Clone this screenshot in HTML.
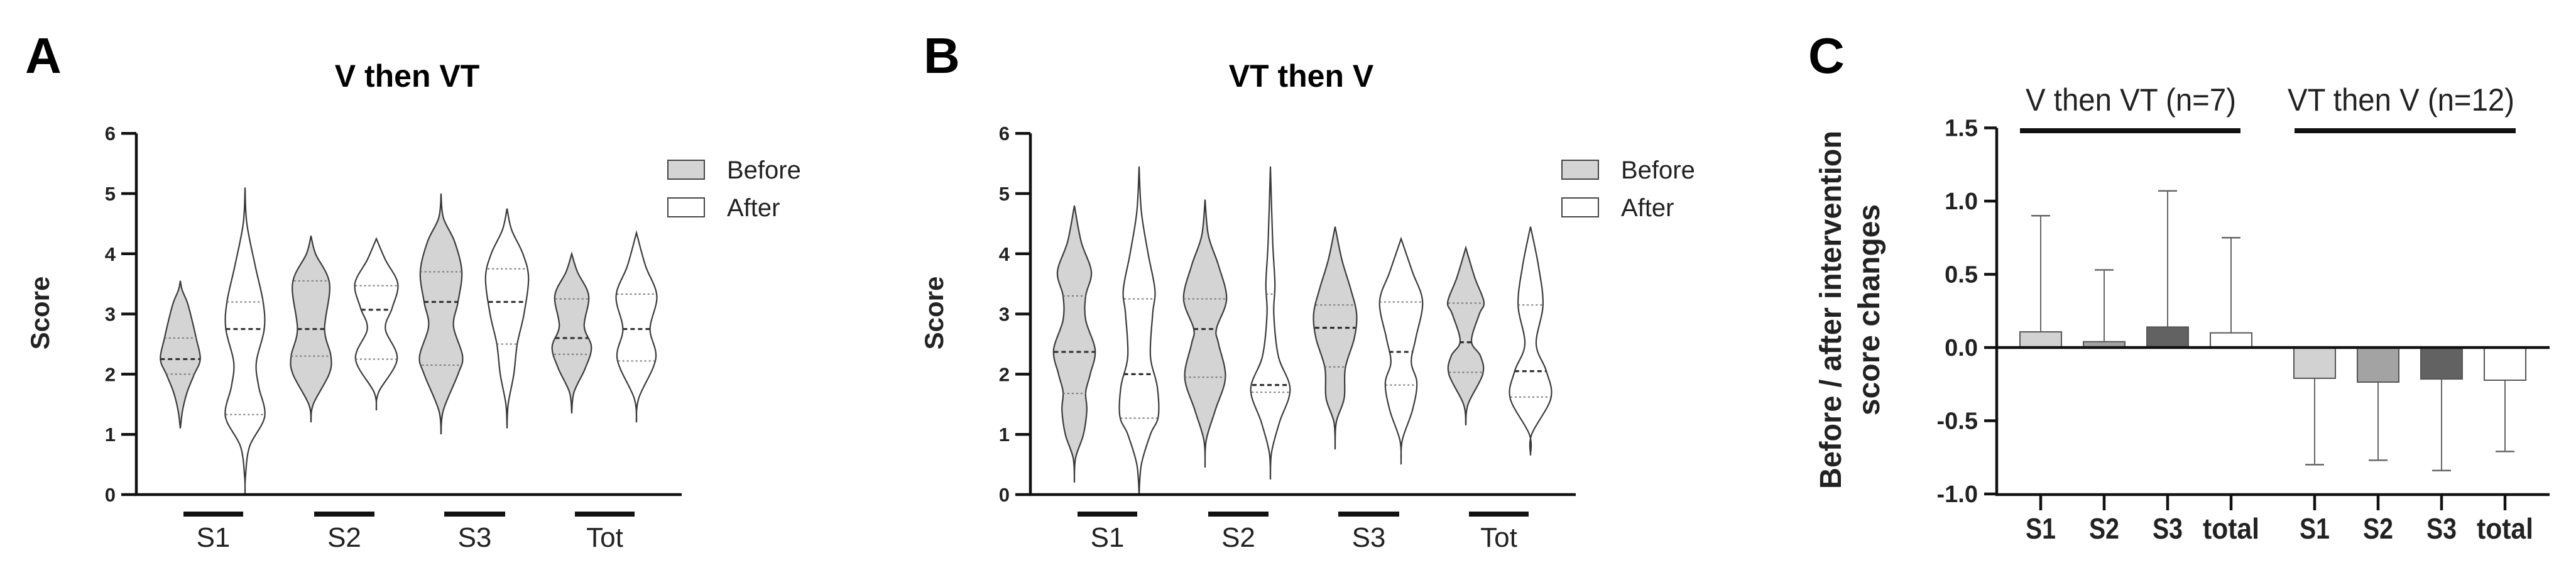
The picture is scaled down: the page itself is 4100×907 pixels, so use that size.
<!DOCTYPE html>
<html><head><meta charset="utf-8">
<style>
html,body{margin:0;padding:0;background:#fff;}
svg{display:block;}
text{font-family:"Liberation Sans Narrow","Liberation Sans",sans-serif;}
</style></head>
<body>
<svg id="fig" width="4100" height="907" viewBox="0 0 4100 907" xmlns="http://www.w3.org/2000/svg">
<rect width="4100" height="907" fill="#fff"/>
<text x="40" y="116" font-size="80" font-weight="bold" style="font-family:'Liberation Sans',sans-serif">A</text>
<text x="1470" y="116" font-size="80" font-weight="bold" style="font-family:'Liberation Sans',sans-serif">B</text>
<text x="2878" y="116" font-size="80" font-weight="bold" style="font-family:'Liberation Sans',sans-serif">C</text>
<g id="pa"></g>
<g id="pb"></g>
<g id="pc"></g>
</svg>
<script>
// ---------- Violin data (scores) ----------
const violinCats = ['S1','S2','S3','Tot'];
const yTicksViolin = [0,1,2,3,4,5,6];
// Panel A: V then VT
const A_BEFORE_Y = [
 [1.1,1.4,1.7,2.0,2.25,2.6,3.0,3.2,3.4,3.55],
 [1.2,1.5,2.0,2.3,2.75,3.5,4.0,4.3],
 [1.0,1.4,2.0,2.3,2.8,3.2,3.7,4.2,4.6,5.0],
 [1.35,1.7,2.1,2.45,2.8,3.3,3.7,4.0]];
const A_BEFORE_W = [
 [0,0.1,0.3,0.62,0.88,0.7,0.45,0.3,0.08,0],
 [0,0.1,0.8,0.88,0.6,0.82,0.2,0],
 [0,0.1,0.75,0.95,0.55,0.75,0.92,0.6,0.1,0],
 [0,0.1,0.6,0.87,0.55,0.75,0.25,0]];
const A_BEFORE_STATS = [[2.0,2.25,2.6],[2.3,2.75,3.55],[2.15,3.2,3.7],[2.33,2.6,3.25]];
const A_AFTER_Y = [
 [0,0.3,0.8,1.3,1.8,2.2,2.75,3.2,3.8,4.5,5.1],
 [1.4,1.7,2.25,2.75,3.1,3.5,3.9,4.25],
 [1.1,1.5,2.0,2.5,3.0,3.6,4.0,4.4,4.75],
 [1.2,1.6,2.25,2.75,3.3,3.8,4.35]];
const A_AFTER_W = [
 [0,0.02,0.2,0.87,0.6,0.5,0.85,0.8,0.45,0.08,0],
 [0,0.1,0.92,0.4,0.7,0.95,0.4,0],
 [0,0.05,0.3,0.45,0.75,0.95,0.7,0.2,0],
 [0,0.1,0.85,0.6,0.9,0.4,0]];
const A_AFTER_STATS = [[1.33,2.75,3.2],[2.25,3.07,3.47],[2.5,3.2,3.75],[2.22,2.75,3.33]];
// Panel B: VT then V
const B_BEFORE_Y = [
 [0.2,0.6,1.0,1.4,1.7,2.0,2.4,2.9,3.3,3.7,4.2,4.8],
 [0.45,0.9,1.4,1.95,2.5,2.75,3.25,3.8,4.3,4.9],
 [0.75,1.2,1.6,2.1,2.6,3.0,3.4,3.9,4.45],
 [1.15,1.5,2.0,2.3,2.55,3.0,3.2,3.6,4.1]];
const B_BEFORE_W = [
 [0,0.05,0.4,0.55,0.5,0.7,0.92,0.5,0.5,0.75,0.3,0],
 [0,0.05,0.45,0.9,0.6,0.5,0.95,0.6,0.15,0],
 [0,0.05,0.4,0.45,0.85,0.95,0.7,0.3,0],
 [0,0.1,0.75,0.65,0.25,0.6,0.8,0.4,0]];
const B_BEFORE_STATS = [[1.68,2.37,3.3],[1.95,2.75,3.25],[2.12,2.77,3.15],[2.03,2.53,3.18]];
const B_AFTER_Y = [
 [0,0.5,1.0,1.3,1.8,2.3,3.0,3.4,4.0,4.7,5.45],
 [0.25,0.7,1.2,1.75,2.3,3.0,3.5,4.2,5.45],
 [0.5,0.9,1.4,1.85,2.2,2.6,3.2,3.7,4.25],
 [0.65,1.0,1.6,2.05,2.5,3.15,3.8,4.45]];
const B_AFTER_W = [
 [0,0.1,0.5,0.85,0.8,0.5,0.6,0.7,0.4,0.1,0],
 [0,0.05,0.4,0.87,0.35,0.15,0.2,0.1,0],
 [0,0.05,0.5,0.7,0.45,0.65,0.95,0.5,0],
 [0,0.05,0.9,0.7,0.25,0.55,0.35,0]];
const B_AFTER_STATS = [[1.27,2.0,3.25],[1.7,1.82,3.33],[1.82,2.37,3.2],[1.62,2.05,3.15]];

// ---------- Bar data (panel C) ----------
const barCats = ['S1','S2','S3','total'];
const groupTitles = ['V then VT (n=7)','VT then V (n=12)'];
const g1Means = [0.107,0.04,0.14,0.10];
const g1Err = [0.90,0.53,1.07,0.75];
const g2Means = [-0.21,-0.236,-0.215,-0.223];
const g2Err = [-0.80,-0.77,-0.84,-0.71];
const yTicksBar = [-1.0,-0.5,0.0,0.5,1.0,1.5];
const yTickLabelsBar = ['-1.0','-0.5','0.0','0.5','1.0','1.5'];

const NS='http://www.w3.org/2000/svg';
function mk(parent,tag,attrs,text){const e=document.createElementNS(NS,tag);for(const k in attrs)e.setAttribute(k,attrs[k]);if(text!==undefined)e.textContent=text;parent.appendChild(e);return e;}

function smoothPath(pts){
  let d='M'+pts[0][0].toFixed(1)+','+pts[0][1].toFixed(1);
  for(let i=0;i<pts.length-1;i++){
    const p0=pts[Math.max(0,i-1)],p1=pts[i],p2=pts[i+1],p3=pts[Math.min(pts.length-1,i+2)];
    const c1=[p1[0]+(p2[0]-p0[0])/6,p1[1]+(p2[1]-p0[1])/6];
    const c2=[p2[0]-(p3[0]-p1[0])/6,p2[1]-(p3[1]-p1[1])/6];
    d+=' C'+c1[0].toFixed(1)+','+c1[1].toFixed(1)+' '+c2[0].toFixed(1)+','+c2[1].toFixed(1)+' '+p2[0].toFixed(1)+','+p2[1].toFixed(1);
  }
  return d;
}
function interpW(ys,ws,y){for(let i=0;i<ys.length-1;i++){if(y>=ys[i]&&y<=ys[i+1]){const t=(y-ys[i])/(ys[i+1]-ys[i]);return ws[i]+t*(ws[i+1]-ws[i]);}}return 0;}

function violinPanel(g,ox,title,BY,BW,BS,AY,AW,AS){
  const axX=217+ox, y0=787, unit=95.8, axEnd=1085+ox, maxHW=36;
  const sy=v=>y0-v*unit;
  const centersRel=[287,390,495,599,702,807,910,1013];
  const cx=i=>centersRel[i]+ox;
  let t=mk(g,'text',{x:648+ox,y:138,'font-size':50,'font-weight':'bold','text-anchor':'middle'},title);
  
  
  function violin(i,ys,ws,st,fill,name){
    const c=cx(i);
    const right=ys.map((y,k)=>[c+ws[k]*maxHW,sy(y)]);
    const left=ys.map((y,k)=>[c-ws[k]*maxHW,sy(y)]).reverse();
    const vg=mk(g,'g',{});
    
    
    const d=smoothPath(right)+' L'+smoothPath(left).slice(1)+' Z';
    mk(vg,'path',{d:d,fill:fill,stroke:'#3a3a3a','stroke-width':2.2});
    st.forEach((q,k)=>{const hw=interpW(ys,ws,q)*maxHW;
      mk(vg,'line',{x1:c-hw,x2:c+hw,y1:sy(q),y2:sy(q),stroke:k===1?'#333':'#777','stroke-width':k===1?3.2:2,'stroke-dasharray':k===1?'7,5':'3,4'});});
  }
  for(let i=0;i<4;i++){
    violin(i*2,BY[i],BW[i],BS[i],'#d4d4d4','violin-before-'+violinCats[i].toLowerCase());
    violin(i*2+1,AY[i],AW[i],AS[i],'#ffffff','violin-after-'+violinCats[i].toLowerCase());
  }
  let ax=mk(g,'path',{d:`M${axX},${sy(6)} V${y0} H${axEnd}`,fill:'none',stroke:'#111','stroke-width':4.5});
  
  
  yTicksViolin.forEach(v=>{
    mk(g,'line',{x1:axX-24,x2:axX,y1:sy(v),y2:sy(v),stroke:'#111','stroke-width':4.5});
    const tl=mk(g,'text',{x:axX-33,y:sy(v)+11,'font-size':31,'font-weight':'bold','text-anchor':'end',fill:'#222'},String(v));
    
    
  });
  const yt=mk(g,'text',{x:0,y:0,'font-size':42,'font-weight':'bold','text-anchor':'middle',transform:`translate(${78+ox},498) rotate(-90)`,style:"font-family:'Liberation Sans',sans-serif",fill:'#222'},'Score');
  
  
  for(let i=0;i<4;i++){
    const a=cx(i*2)+5,b=cx(i*2+1)-3;
    const gb=mk(g,'line',{x1:a,x2:b,y1:818,y2:818,stroke:'#111','stroke-width':8});
    
    
    const gl=mk(g,'text',{x:(a+b)/2,y:870,'font-size':44,'text-anchor':'middle',fill:'#222'},violinCats[i]);
    
    
  }
  [['Before','#d4d4d4',255],['After','#fff',315]].forEach(([lab,f,yy])=>{
    const lg=mk(g,'g',{});
    
    
    mk(lg,'rect',{x:1063+ox,y:yy,width:58,height:30,fill:f,stroke:'#444','stroke-width':2});
    mk(lg,'text',{x:1157+ox,y:yy+29,'font-size':40,fill:'#222'},lab);
  });
}
violinPanel(document.getElementById('pa'),0,'V then VT',A_BEFORE_Y,A_BEFORE_W,A_BEFORE_STATS,A_AFTER_Y,A_AFTER_W,A_AFTER_STATS);
violinPanel(document.getElementById('pb'),1423,'VT then V',B_BEFORE_Y,B_BEFORE_W,B_BEFORE_STATS,B_AFTER_Y,B_AFTER_W,B_AFTER_STATS);

// ---------- Panel C ----------
(function(){
  const g=document.getElementById('pc');
  const axX=3178, y0=553, unit=233, axEnd=4058, bw=66;
  const sy=v=>y0-v*unit;
  const startX=[3248,3684], step=101;
  const colors=['#d2d2d2','#a3a3a3','#626262','#ffffff'];
  const means=[g1Means,g2Means], errs=[g1Err,g2Err];
  for(let gi=0;gi<2;gi++){
    for(let i=0;i<4;i++){
      const c=startX[gi]+i*step, m=means[gi][i], e=errs[gi][i];
      const eb=mk(g,'g',{});
      
      
      mk(eb,'line',{x1:c,x2:c,y1:sy(m),y2:sy(e),stroke:'#666','stroke-width':2});
      mk(eb,'line',{x1:c-15,x2:c+15,y1:sy(e),y2:sy(e),stroke:'#666','stroke-width':2.5});
      const r=mk(g,'rect',{x:c-bw/2,y:Math.min(sy(m),y0),width:bw,height:Math.abs(sy(m)-y0),fill:colors[i],stroke:'#555','stroke-width':2});
      
      
      mk(g,'line',{x1:c,x2:c,y1:787,y2:812,stroke:'#111','stroke-width':4.5});
      const xl=mk(g,'text',{x:c,y:857,'font-size':46,'font-weight':'bold','text-anchor':'middle',fill:'#222',textLength:barCats[i].length>2?90:48,lengthAdjust:'spacingAndGlyphs'},barCats[i]);
      
      
    }
  }
  mk(g,'line',{x1:axX,x2:axEnd,y1:y0,y2:y0,stroke:'#111','stroke-width':4.5});
  const ax=mk(g,'path',{d:`M${axX},${sy(1.5)} V787 H${axEnd}`,fill:'none',stroke:'#111','stroke-width':4.5});
  
  
  yTicksBar.forEach((v,k)=>{
    mk(g,'line',{x1:axX-20,x2:axX,y1:sy(v),y2:sy(v),stroke:'#111','stroke-width':4.5});
    const tl=mk(g,'text',{x:3148,y:sy(v)+13,'font-size':38,'font-weight':'bold','text-anchor':'end',fill:'#222'},yTickLabelsBar[k]);
    
    
  });
  const lines=[[3215,3566,3224,335],[3652,4004,3641,361]];
  lines.forEach(([a,b,tx,tw],k)=>{
    const gl=mk(g,'line',{x1:a,x2:b,y1:208,y2:208,stroke:'#111','stroke-width':8});
    
    
    const gt=mk(g,'text',{x:tx,y:176,'font-size':50,fill:'#222',textLength:tw,lengthAdjust:'spacingAndGlyphs'},groupTitles[k]);
    
    
  });
  const t1=mk(g,'text',{x:0,y:0,'font-size':48,'font-weight':'bold','text-anchor':'middle',transform:'translate(2930,493) rotate(-90)',style:"font-family:'Liberation Sans',sans-serif",fill:'#222',textLength:570,lengthAdjust:'spacingAndGlyphs'},'Before / after intervention');
  
  
  const t2=mk(g,'text',{x:0,y:0,'font-size':48,'font-weight':'bold','text-anchor':'middle',transform:'translate(2991,493) rotate(-90)',style:"font-family:'Liberation Sans',sans-serif",fill:'#222'},'score changes');
  
  
})();
</script>
</body></html>
